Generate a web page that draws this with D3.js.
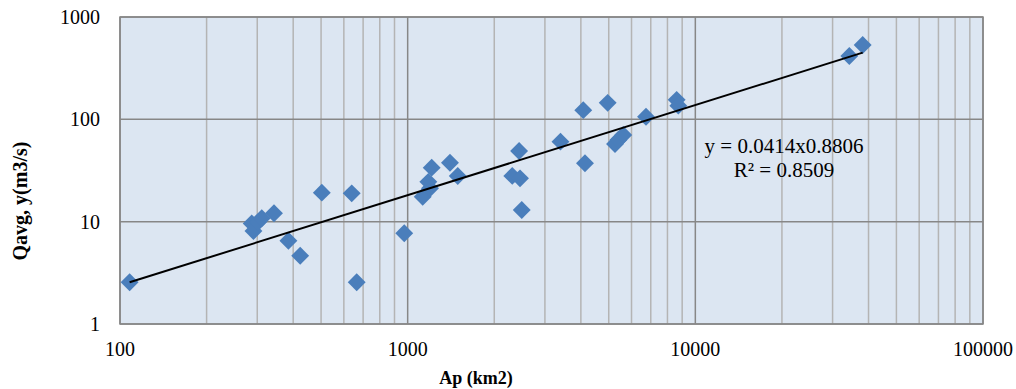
<!DOCTYPE html>
<html>
<head>
<meta charset="utf-8">
<script src="https://cdn.jsdelivr.net/npm/d3@7"></script>
<style>
  body { margin: 0; background: #fff; }
  svg { display: block; font-family: "Liberation Serif", "Times New Roman", serif; }
</style>
</head>
<body>
<svg id="chart" width="1016" height="389"></svg>
<script>
const apValues = [108, 287, 291, 302, 311, 343, 385, 423, 503, 639, 665, 973, 1128, 1196, 1180, 1212, 1403, 1493,
  2310, 2440, 2458, 2492, 3398, 4078, 4134, 4958, 5257, 5398, 5617, 6738, 8612, 8726, 34300, 38170];
const qValues = [2.56, 9.6, 8.1, 9.9, 10.8, 12.1, 6.5, 4.65, 19.2, 18.9, 2.56, 7.7, 17.5, 21.2, 24.5, 33.7, 37.7, 27.9,
  28, 49, 26.5, 13.0, 60.5, 123, 37.2, 145, 57.4, 62.8, 70.3, 106, 155, 136, 416, 532];
const xTicks = [100, 1000, 10000, 100000];
const yTicks = [1, 10, 100, 1000];
const trendCoef = 0.0414;
const trendExp = 0.8806;
const equationText = "y = 0.0414x0.8806";
const r2Text = "R² = 0.8509";

const width = 1016;
const height = 389;
const margin = { top: 17, right: 33, bottom: 65, left: 120 };

const points = apValues.map((ap, i) => ({ ap, q: qValues[i] }));

const x = d3.scaleLog()
  .domain([100, 100000])
  .range([margin.left, width - margin.right]);

const y = d3.scaleLog()
  .domain([1, 1000])
  .range([height - margin.bottom, margin.top]);

const svg = d3.select("#chart");

svg.append("rect")
  .attr("x", margin.left)
  .attr("y", margin.top)
  .attr("width", x.range()[1] - x.range()[0])
  .attr("height", y.range()[0] - y.range()[1])
  .attr("fill", "#dce6f2");

// minor vertical gridlines
const minorX = [];
for (let d = 100; d < 100000; d *= 10) {
  for (let k = 2; k <= 9; k++) minorX.push(d * k);
}

svg.append("g")
  .selectAll("line")
  .data(minorX)
  .join("line")
  .attr("x1", (d) => x(d))
  .attr("x2", (d) => x(d))
  .attr("y1", y.range()[1])
  .attr("y2", y.range()[0])
  .attr("stroke", "#b4b4b4")
  .attr("stroke-width", 1.5);

svg.append("g")
  .selectAll("line")
  .data(xTicks)
  .join("line")
  .attr("x1", (d) => x(d))
  .attr("x2", (d) => x(d))
  .attr("y1", y.range()[1])
  .attr("y2", y.range()[0])
  .attr("stroke", "#878787")
  .attr("stroke-width", 1.5);

svg.append("g")
  .selectAll("line")
  .data(yTicks)
  .join("line")
  .attr("x1", x.range()[0])
  .attr("x2", x.range()[1])
  .attr("y1", (d) => y(d))
  .attr("y2", (d) => y(d))
  .attr("stroke", "#878787")
  .attr("stroke-width", 1.5);

svg.append("rect")
  .attr("x", margin.left)
  .attr("y", margin.top)
  .attr("width", x.range()[1] - x.range()[0])
  .attr("height", y.range()[0] - y.range()[1])
  .attr("fill", "none")
  .attr("stroke", "#878787")
  .attr("stroke-width", 1.5);

// markers
const diamond = d3.symbol().type(d3.symbolSquare).size(160);

svg.append("g")
  .selectAll("path")
  .data(points)
  .join("path")
  .attr("d", diamond)
  .attr("transform", (d) => `translate(${x(d.ap)},${y(d.q)}) rotate(45)`)
  .attr("fill", "#4a7ebb");

// power trendline
const apExtent = d3.extent(apValues);
const trend = apExtent.map((ap) => ({ ap, q: trendCoef * Math.pow(ap, trendExp) }));

svg.append("path")
  .datum(trend)
  .attr("fill", "none")
  .attr("stroke", "#000")
  .attr("stroke-width", 2)
  .attr("d", d3.line().x((d) => x(d.ap)).y((d) => y(d.q)));

// tick labels
svg.append("g")
  .selectAll("text")
  .data(yTicks)
  .join("text")
  .attr("x", 100)
  .attr("y", (d) => y(d) + 7)
  .attr("text-anchor", "end")
  .attr("font-size", 20)
  .attr("fill", "#000")
  .text((d) => d);

svg.append("g")
  .selectAll("text")
  .data(xTicks)
  .join("text")
  .attr("x", (d) => x(d))
  .attr("y", 356)
  .attr("text-anchor", "middle")
  .attr("font-size", 20)
  .attr("fill", "#000")
  .text((d) => d);

svg.append("text")
  .attr("x", 476)
  .attr("y", 384)
  .attr("text-anchor", "middle")
  .attr("font-size", 18)
  .attr("font-weight", "bold")
  .text("Ap (km2)");

svg.append("text")
  .attr("transform", "translate(27,201) rotate(-90)")
  .attr("text-anchor", "middle")
  .attr("font-size", 20)
  .attr("font-weight", "bold")
  .text("Qavg, y(m3/s)");

svg.append("text")
  .attr("x", 784)
  .attr("y", 153)
  .attr("text-anchor", "middle")
  .attr("font-size", 21)
  .text(equationText);

svg.append("text")
  .attr("x", 784)
  .attr("y", 177)
  .attr("text-anchor", "middle")
  .attr("font-size", 21)
  .text(r2Text);
</script>
</body>
</html>
